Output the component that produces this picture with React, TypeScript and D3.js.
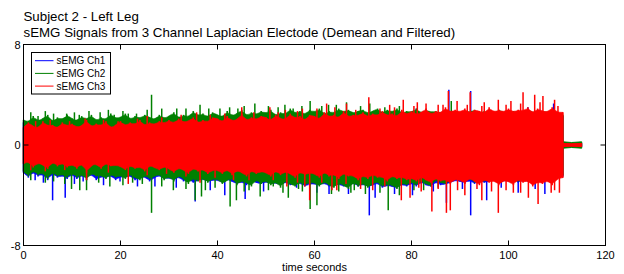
import * as d3 from 'd3'
import React from 'react'

// sample times (s): one envelope point per second up to the cut-off at ~111 s, then the flat tail
const times = [...d3.range(0, 111), 111.2]
const tailTimes = [111.3, 113, 115.1]

// Ch1 (blue): per-second peaks, upper / lower
const ch1Top = [
  1.8, 1.6, 2.0, 1.7, 1.9, 2.1, 1.6, 2.0, 1.8, 2.1,
  1.9, 1.7, 2.1, 1.8, 2.0, 1.7, 2.1, 1.8, 2.2, 1.9,
  2.0, 2.2, 1.8, 2.1, 1.9, 2.2, 2.0, 1.8, 2.2, 1.9,
  2.1, 2.3, 1.9, 2.2, 2.0, 2.4, 2.1, 2.3, 2.0, 2.3,
  2.2, 2.0, 2.4, 2.1, 2.3, 2.5, 2.1, 2.4, 2.2, 2.4,
  2.3, 2.5, 2.1, 2.4, 2.2, 2.6, 2.3, 2.5, 2.2, 2.5,
  2.4, 2.6, 2.2, 2.5, 2.3, 2.6, 2.4, 2.6, 2.3, 2.5,
  2.6, 2.3, 2.5, 2.7, 2.3, 2.6, 2.4, 2.7, 2.3, 2.5,
  2.4, 2.7, 2.3, 2.6, 2.5, 2.6, 2.4, 2.7, 2.5, 2.6,
  2.4, 2.6, 2.5, 2.7, 2.4, 2.6, 2.5, 2.4, 2.7, 2.5,
  2.4, 2.6, 2.5, 2.4, 2.7, 2.5, 2.4, 2.6, 2.5, 2.7, 2.3,
  2.3,
]
const ch1Bottom = [
  -2.2, -2.6, -2.1, -2.5, -2.3, -2.8, -2.2, -2.6, -2.4, -2.7,
  -2.3, -2.7, -2.4, -2.6, -2.3, -2.8, -2.5, -2.6, -2.4, -2.8,
  -2.5, -2.6, -2.4, -2.8, -2.6, -2.5, -2.9, -2.6, -2.4, -2.7,
  -2.6, -2.8, -2.5, -2.9, -2.7, -3.0, -2.8, -2.7, -2.9, -2.8,
  -2.8, -3.0, -2.7, -2.9, -3.1, -2.9, -3.2, -2.8, -3.0, -3.1,
  -2.9, -3.1, -3.0, -3.2, -2.9, -3.2, -3.1, -3.0, -3.3, -3.1,
  -3.1, -3.2, -3.0, -3.3, -3.2, -3.1, -3.3, -3.2, -3.0, -3.3,
  -3.1, -3.3, -3.2, -3.0, -3.4, -3.2, -3.3, -3.4, -3.1, -3.3,
  -3.0, -3.3, -2.9, -3.2, -3.3, -2.9, -3.2, -3.1, -3.0, -2.8,
  -2.9, -3.0, -2.8, -3.1, -2.8, -3.0, -2.9, -2.7, -3.1, -2.8,
  -2.9, -2.7, -3.0, -2.8, -2.9, -2.7, -3.0, -2.8, -2.7, -2.9, -2.5,
  -2.5,
]
const ch1Tail = [0.15, 0.12, 0.15]
// Ch1 thin spikes [time, value]
const ch1Spikes = [
  [87.7, 4.4], [92.2, 4.3], [109.3, 3.3], [104, 3.0], [81, 2.9],
  [2.4, -2.8], [4.1, -3.0], [6.0, -4.4], [8.6, -4.2], [10.5, -3.1], [12.3, -2.9], [16.5, -3.2],
  [19.9, -2.9], [23.5, -3.3], [27.1, -3.3], [31.5, -3.4], [35.4, -4.5], [38.5, -3.6], [41.5, -4.0],
  [45.7, -4.3], [49.5, -3.7], [56.3, -3.4], [60.5, -3.8], [63, -3.9], [67, -3.9], [71.3, -5.6],
  [72.5, -4.2], [76.5, -3.9], [80.2, -4.0], [84.5, -3.7], [87.2, -4.6], [90.5, -3.5], [92.2, -5.6],
  [95.5, -4.4], [98.5, -3.4], [102, -3.8], [105.5, -3.5], [107.5, -3.9],
]

// Ch2 (green)
const ch2Top = [
  2.0, 1.8, 2.3, 1.9, 2.1, 2.4, 1.8, 2.2, 2.0, 2.4,
  2.1, 1.9, 2.3, 2.0, 2.4, 1.9, 2.2, 2.0, 2.5, 2.1,
  2.2, 2.5, 2.0, 2.3, 2.1, 2.4, 2.2, 2.0, 2.4, 2.1,
  2.3, 2.6, 2.1, 2.4, 2.2, 2.7, 2.3, 2.5, 2.2, 2.6,
  2.4, 2.2, 2.7, 2.3, 2.5, 2.8, 2.3, 2.6, 2.4, 2.7,
  2.5, 2.8, 2.3, 2.6, 2.4, 2.9, 2.5, 2.7, 2.4, 2.8,
  2.6, 2.9, 2.4, 2.7, 2.5, 2.9, 2.6, 2.8, 2.5, 2.7,
  2.8, 2.5, 2.7, 2.9, 2.5, 2.8, 2.6, 2.9, 2.5, 2.7,
  2.6, 2.9, 2.5, 2.8, 2.6, 2.7, 2.5, 2.8, 2.6, 2.7,
  2.5, 2.7, 2.6, 2.8, 2.5, 2.7, 2.6, 2.5, 2.8, 2.6,
  2.5, 2.7, 2.6, 2.5, 2.8, 2.6, 2.5, 2.7, 2.6, 2.7, 2.4,
  2.4,
]
const ch2Bottom = [
  -2.1, -2.5, -2.0, -2.4, -2.2, -2.7, -2.1, -2.5, -2.3, -2.6,
  -2.2, -2.6, -2.3, -2.8, -2.2, -2.5, -2.4, -2.7, -2.3, -2.6,
  -2.4, -2.7, -2.3, -2.6, -2.8, -2.4, -2.7, -2.5, -2.3, -2.8,
  -2.5, -2.9, -2.4, -2.7, -3.1, -2.6, -2.9, -2.6, -3.0, -2.7,
  -2.7, -3.1, -2.8, -2.6, -3.2, -2.8, -3.0, -3.3, -2.7, -3.1,
  -2.8, -3.2, -2.9, -3.4, -2.8, -3.1, -3.3, -2.9, -3.2, -3.0,
  -3.0, -3.3, -2.9, -3.2, -3.4, -3.0, -3.2, -3.5, -2.9, -3.3,
  -3.0, -3.4, -3.1, -2.9, -3.3, -3.1, -3.2, -3.5, -3.0, -3.2,
  -2.9, -3.2, -2.8, -3.1, -3.3, -2.7, -3.0, -3.1, -2.8, -2.7,
  -2.7, -2.9, -2.6, -3.0, -2.6, -2.9, -2.7, -2.5, -3.0, -2.6,
  -2.7, -2.5, -2.9, -2.6, -2.8, -2.5, -2.9, -2.6, -2.5, -2.8, -2.4,
  -2.4,
]
const ch2Tail = [0.25, 0.2, 0.25]
const ch2Spikes = [
  [1.5, 2.6], [3.0, 2.3], [4.5, 2.7], [6.2, 2.5], [8.9, 2.5], [10.5, 2.6], [11.5, 2.4], [13.5, 2.7],
  [15.8, 2.6], [17.5, 2.8], [18.7, 2.4], [20.5, 2.7], [21.6, 2.5], [23.3, 2.5], [25.5, 2.8],
  [26.4, 4.0], [28.5, 2.9], [31.6, 2.9], [33.5, 2.9], [36.4, 3.2], [38.2, 2.9], [40.5, 2.9],
  [42.5, 3.0], [44.2, 2.9], [45.5, 3.1], [47.7, 3.3], [50.5, 3.1], [52.5, 3.0], [53.9, 3.2],
  [55.6, 2.9], [57.4, 3.1], [59.1, 3.5], [61.5, 3.1], [62.9, 3.2], [64.5, 3.2], [66.6, 3.4],
  [69.5, 3.1], [71.4, 3.3], [74.5, 3.0], [77.5, 3.1], [88.2, 3.5],
  [1.5, -2.8], [4.5, -3.0], [6.2, -2.9], [8.5, -3.1], [9.9, -3.5], [11.6, -3.6], [13, -3.6],
  [15.5, -3.0], [17.8, -3.3], [20.5, -3.2], [22.5, -3.0], [24.5, -3.1], [26.4, -5.4], [28.5, -3.3],
  [30.9, -3.6], [33.5, -3.5], [35.4, -4.4], [36.7, -4.1], [37.5, -3.6], [39.5, -3.4], [42.6, -4.9],
  [43.9, -4.4], [45.5, -3.7], [46.5, -3.6], [48.8, -4.1], [50.5, -3.6], [51.5, -3.3], [53.5, -3.8],
  [54.6, -4.2], [56.7, -3.5], [57.5, -3.7], [59.1, -5.1], [60.5, -4.8], [63.5, -3.9], [65, -3.7],
  [67.5, -3.8], [68.2, -3.6], [70.5, -3.9], [73.5, -3.8], [75.2, -5.2], [77.5, -4.0], [80.5, -3.6],
  [82.5, -3.6], [85.5, -3.4],
]

// Ch3 (red)
const ch3Top = [
  1.4, 1.8, 1.5, 1.3, 1.9, 1.5, 1.6, 1.3, 1.8, 1.5,
  1.7, 1.4, 1.5, 2.0, 1.4, 1.7, 1.5, 1.9, 1.3, 1.6,
  1.9, 1.5, 1.8, 1.6, 2.0, 1.5, 1.8, 1.6, 1.9, 1.7,
  2.0, 1.7, 2.1, 1.8, 1.9, 2.2, 1.7, 2.0, 1.8, 2.2,
  2.1, 1.8, 2.3, 1.9, 2.0, 2.5, 1.9, 2.2, 2.0, 2.3,
  2.2, 1.9, 2.4, 2.1, 2.0, 2.5, 2.1, 2.3, 1.9, 2.4,
  2.3, 2.0, 2.6, 2.2, 2.4, 2.1, 2.7, 2.2, 2.4, 2.3,
  2.6, 2.2, 2.5, 2.3, 2.7, 2.3, 2.5, 2.2, 2.8, 2.4,
  2.7, 2.4, 2.6, 2.9, 2.4, 2.7, 2.5, 3.0, 2.6, 2.8,
  2.6, 2.9, 2.5, 2.8, 2.7, 2.5, 3.0, 2.6, 2.8, 2.6,
  2.9, 2.6, 2.8, 2.7, 3.0, 2.5, 2.9, 2.7, 2.6, 3.0, 2.6,
  2.6,
]
const ch3Bottom = [
  -1.5, -1.3, -1.8, -1.4, -1.6, -1.9, -1.3, -1.7, -1.4, -1.8,
  -1.5, -1.9, -1.4, -2.2, -1.6, -1.5, -1.9, -1.4, -1.7, -1.6,
  -1.7, -2.0, -1.6, -1.9, -1.7, -2.1, -1.6, -1.8, -2.0, -1.7,
  -1.9, -2.2, -1.8, -2.0, -2.3, -1.8, -2.1, -1.9, -2.3, -2.0,
  -2.0, -2.3, -1.9, -2.4, -2.0, -2.2, -2.5, -2.0, -2.3, -2.1,
  -2.2, -2.5, -2.0, -2.4, -2.1, -2.3, -2.6, -2.1, -2.4, -2.2,
  -2.3, -2.6, -2.1, -2.5, -2.3, -2.7, -2.2, -2.5, -2.4, -2.8,
  -2.4, -2.7, -2.3, -2.6, -2.5, -2.9, -2.4, -2.7, -2.5, -2.8,
  -2.6, -2.9, -2.5, -2.8, -3.0, -2.6, -2.9, -2.7, -3.1, -2.7,
  -2.8, -3.1, -2.6, -2.9, -3.2, -2.7, -3.0, -2.8, -3.2, -2.8,
  -2.9, -3.2, -2.7, -3.0, -2.8, -3.3, -2.9, -3.1, -2.8, -3.2, -2.7,
  -2.6,
]
const ch3Tail = [0.12, 0.1, 0.12]
const ch3Spikes = [
  [2.5, 1.9], [5.5, 2.0], [9.5, 1.9], [12.7, 2.1], [16.5, 2.0], [19.5, 1.9], [23.5, 2.1],
  [25.5, 2.3], [28.5, 2.2], [32.5, 2.4], [35.7, 2.6], [38.5, 2.4], [41.5, 2.5], [45, 3.0],
  [47.5, 2.6], [50.8, 3.0], [52.5, 2.6], [54, 2.8], [56.5, 2.7], [57.5, 2.9], [60.5, 2.9],
  [62.5, 3.3], [64.2, 3.0], [66.6, 3.3], [68.5, 2.8], [71.2, 3.8], [73.5, 2.9], [75.5, 3.2],
  [76.5, 3.0], [78.3, 3.6], [80.5, 3.1], [81.2, 3.4], [83, 3.3], [85.5, 3.2], [86.5, 3.2],
  [87.6, 4.3], [89.4, 3.5], [91.5, 3.2], [92.1, 4.2], [94.5, 3.1], [95, 3.4], [97.9, 3.6],
  [99.5, 3.2], [100.5, 3.5], [102.5, 3.3], [103, 4.2], [105.4, 4.0], [106.5, 3.4], [107.1, 3.9],
  [109.5, 3.6], [110.2, 3.1],
  [1.5, -2.0], [4.5, -2.1], [8.5, -2.0], [13, -2.8], [17.5, -2.2], [21.6, -3.1], [25.5, -2.4],
  [29.5, -2.3], [33.5, -2.5], [36.4, -3.0], [39.5, -2.6], [43.3, -2.8], [46.5, -2.8], [51.5, -2.8],
  [54.3, -3.3], [56.5, -3.0], [58, -3.3], [59, -4.4], [61.5, -3.0], [63.6, -3.6], [64.6, -3.6],
  [66.5, -3.1], [69.5, -3.5], [72, -3.6], [74.5, -3.3], [77.9, -4.4], [79.7, -4.2], [81.5, -3.4],
  [82, -3.7], [84.2, -5.3], [85.5, -3.5], [87.2, -5.4], [88, -5.2], [89.5, -3.6], [91, -4.0],
  [93.5, -3.5], [94.5, -4.4], [96.5, -3.7], [97.9, -5.4], [99.5, -3.6], [101, -3.8], [102.5, -3.8],
  [104.1, -4.2], [106.1, -4.7], [108.8, -3.8], [109.5, -3.6], [110.5, -3.8],
]

const channels = [
  { name: 'sEMG Ch1', color: '#0000ff', top: ch1Top, bottom: ch1Bottom, tail: ch1Tail, spikes: ch1Spikes },
  { name: 'sEMG Ch2', color: '#008000', top: ch2Top, bottom: ch2Bottom, tail: ch2Tail, spikes: ch2Spikes },
  { name: 'sEMG Ch3', color: '#ff0000', top: ch3Top, bottom: ch3Bottom, tail: ch3Tail, spikes: ch3Spikes },
]

const xTicks = [0, 20, 40, 60, 80, 100, 120]
const yTicks = [-8, 0, 8]
const titleLines = ['Subject 2 - Left Leg', 'sEMG Signals from 3 Channel Laplacian Electode (Demean and Filtered)']
const xLabel = 'time seconds'

const W = 624
const H = 274
const m = { left: 23.5, right: 18.5, top: 44.5, bottom: 28.5 }
const font = 'Liberation Sans, Arial, sans-serif'

export default function App() {
  const x = d3.scaleLinear().domain([0, 120]).range([m.left, W - m.right])
  const y = d3.scaleLinear().domain([-8, 8]).range([H - m.bottom, m.top])
  const tick = 5

  // dense core of the signal: a smoothed band through the per-second peaks
  const core = (top: number[], bottom: number[]) =>
    d3
      .area<number>()
      .curve(d3.curveBasis)
      .x((d) => x(times[d]))
      .y0((d) => y(bottom[d]))
      .y1((d) => y(top[d]))(d3.range(times.length))

  const tailArea = (tail: number[]) =>
    d3
      .area<number>()
      .x((d, i) => x(tailTimes[i]))
      .y0((d) => y(-d))
      .y1((d) => y(d))(tail)

  return (
    <svg width={W} height={H} style={{ position: 'absolute', left: 0, top: 0, background: '#fff' }}>
      <rect width={W} height={H} fill="#fff" />
      <g fontFamily={font} fill="#000">
        {titleLines.map((t, i) => (
          <text key={i} x={m.left} y={21 + i * 16} fontSize={13.3}>
            {t}
          </text>
        ))}
      </g>

      {channels.map((c) => (
        <g key={c.name} stroke={c.color} fill={c.color}>
          <path d={core(c.top, c.bottom) ?? ''} strokeWidth={0.6} />
          <path d={tailArea(c.tail) ?? ''} strokeWidth={1} />
          {times.map((t, i) => (
            <line key={'s' + i} x1={x(t)} x2={x(t)} y1={y(c.bottom[i])} y2={y(c.top[i])} strokeWidth={1.6} />
          ))}
          {c.spikes.map(([t, v], i) => (
            <line key={i} x1={x(t)} x2={x(t)} y1={y(0)} y2={y(v)} strokeWidth={1.5} />
          ))}
        </g>
      ))}

      {/* axes box */}
      <rect x={x(0)} y={y(8)} width={x(120) - x(0)} height={y(-8) - y(8)} fill="none" stroke="#000" strokeWidth={1} />
      <g stroke="#000" strokeWidth={1}>
        {xTicks.map((t) => (
          <g key={t}>
            <line x1={x(t)} x2={x(t)} y1={y(-8)} y2={y(-8) - tick} />
            <line x1={x(t)} x2={x(t)} y1={y(8)} y2={y(8) + tick} />
          </g>
        ))}
        {yTicks.map((t) => (
          <g key={t}>
            <line x1={x(0)} x2={x(0) + tick} y1={y(t)} y2={y(t)} />
            <line x1={x(120)} x2={x(120) - tick} y1={y(t)} y2={y(t)} />
          </g>
        ))}
      </g>
      <g fontFamily={font} fontSize={11} fill="#000">
        {xTicks.map((t) => (
          <text key={t} x={x(t)} y={y(-8) + 13.5} textAnchor="middle">
            {t}
          </text>
        ))}
        {yTicks.map((t) => (
          <text key={t} x={x(0) - 3} y={y(t) + 4} textAnchor="end">
            {t}
          </text>
        ))}
        <text x={(x(0) + x(120)) / 2} y={271} textAnchor="middle">
          {xLabel}
        </text>
      </g>

      {/* legend */}
      <g fontFamily={font} fontSize={10}>
        <rect x={31.5} y={52.5} width={79} height={41.5} fill="#fff" stroke="#000" strokeWidth={1} />
        {channels.map((c, i) => (
          <g key={c.name} transform={`translate(0, ${60.7 + i * 12.7})`}>
            <line x1={35} x2={53.5} y1={0} y2={0} stroke={c.color} strokeWidth={1} />
            <text x={56.5} y={3.5} fill="#000">
              {c.name}
            </text>
          </g>
        ))}
      </g>
    </svg>
  )
}
